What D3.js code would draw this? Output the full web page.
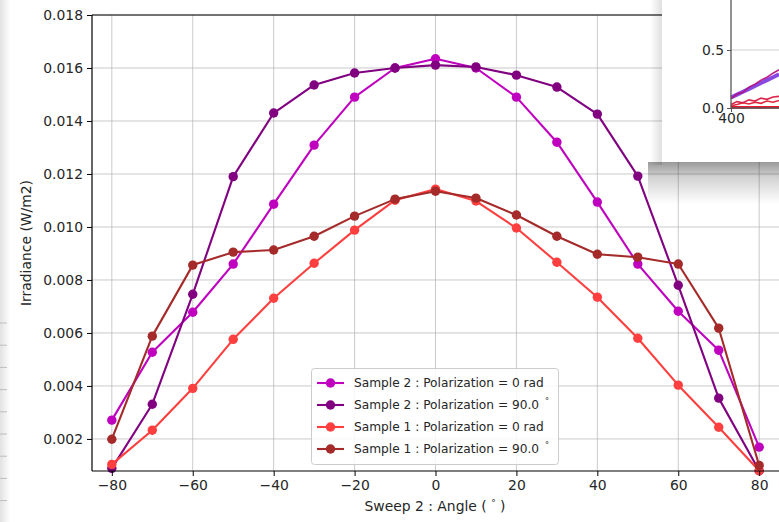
<!DOCTYPE html>
<html>
<head>
<meta charset="utf-8">
<script src="https://cdn.jsdelivr.net/npm/d3@7/dist/d3.min.js"></script>
<style>
  html, body { margin: 0; padding: 0; background: #ffffff; }
  svg { display: block; }
  text { font-family: "DejaVu Sans", sans-serif; fill: #262626; }
</style>
</head>
<body>
<svg id="chart" width="779" height="522"></svg>
<script>
// Sweep angles (degrees)
const angles = [-80, -70, -60, -50, -40, -30, -20, -10, 0, 10, 20, 30, 40, 50, 60, 70, 80];

// Irradiance (W/m2) per sample / polarization
const sample2Pol0 = [0.00271, 0.00527, 0.00678, 0.00860, 0.01086, 0.01309, 0.01490, 0.01600, 0.01635,
                     0.01600, 0.01490, 0.01320, 0.01094, 0.00860, 0.00682, 0.00535, 0.00169];
const sample2Pol90 = [0.00089, 0.00331, 0.00746, 0.01190, 0.01430, 0.01536, 0.01581, 0.01600, 0.01611,
                      0.01604, 0.01573, 0.01528, 0.01426, 0.01192, 0.00780, 0.00354, 0.00080];
const sample1Pol0 = [0.00104, 0.00233, 0.00391, 0.00576, 0.00731, 0.00863, 0.00988, 0.01101, 0.01143,
                     0.01098, 0.00996, 0.00867, 0.00735, 0.00580, 0.00403, 0.00244, 0.00080];
const sample1Pol90 = [0.00199, 0.00588, 0.00856, 0.00905, 0.00913, 0.00965, 0.01041, 0.01105, 0.01135,
                      0.01109, 0.01045, 0.00965, 0.00897, 0.00886, 0.00860, 0.00618, 0.00100];

const seriesNames = [
  ["Sample 2 : Polarization = 0 rad", null],
  ["Sample 2 : Polarization = 90.0 ", "°"],
  ["Sample 1 : Polarization = 0 rad", null],
  ["Sample 1 : Polarization = 90.0 ", "°"]
];
const seriesValues = [sample2Pol0, sample2Pol90, sample1Pol0, sample1Pol90];
const seriesColors = ["#bf00bf", "#800080", "#ff3f3f", "#a52a2a"];

const xTicks = [-80, -60, -40, -20, 0, 20, 40, 60, 80];
const yTicks = [0.002, 0.004, 0.006, 0.008, 0.010, 0.012, 0.014, 0.016, 0.018];

// Second plot window (spectra) partly overlapping the figure
const insetWavelength = [400, 405, 410, 415, 420, 425, 430, 435, 440];
const insetViolet  = [0.09, 0.115, 0.14, 0.165, 0.19, 0.215, 0.24, 0.265, 0.29];
const insetMagenta = [0.08, 0.12, 0.135, 0.18, 0.205, 0.24, 0.265, 0.30, 0.33];
const insetRedA    = [0.03, 0.055, 0.045, 0.07, 0.06, 0.085, 0.075, 0.095, 0.10];
const insetRedB    = [0.02, 0.03, 0.045, 0.035, 0.05, 0.04, 0.06, 0.05, 0.065];
const insetRedC    = [0.005, 0.006, 0.005, 0.007, 0.006, 0.005, 0.007, 0.006, 0.006];

const svg = d3.select("#chart");
const defs = svg.append("defs");

// Plot area
const plotLeft = 92, plotTop = 15, plotBottom = 471;
const x = d3.scaleLinear().domain([-84.9, 84.9]).range([plotLeft, plotLeft + 687]);
const y = d3.scaleLinear().domain([0.00079, 0.018]).range([plotBottom, plotTop]);

// Left strip of the desktop behind the figure
const gl = defs.append("linearGradient").attr("id", "leftShade").attr("x1", 0).attr("x2", 1);
gl.append("stop").attr("offset", 0).attr("stop-color", "#e2e2e2");
gl.append("stop").attr("offset", 1).attr("stop-color", "#ffffff");
svg.append("rect").attr("x", 0).attr("y", 0).attr("width", 10).attr("height", 522).attr("fill", "url(#leftShade)");
svg.append("g").selectAll("line").data(d3.range(323, 510, 22.2)).join("line")
  .attr("x1", 0).attr("x2", 7).attr("y1", d => d).attr("y2", d => d)
  .attr("stroke", "#bdbdbd").attr("stroke-width", 1);

// Grid
const grid = svg.append("g").attr("stroke", "#b0b0b0").attr("stroke-width", 0.9).attr("stroke-opacity", 0.75);
grid.selectAll(".gx").data(xTicks).join("line")
  .attr("x1", d => x(d)).attr("x2", d => x(d)).attr("y1", plotTop).attr("y2", plotBottom);
grid.selectAll(".gy").data(yTicks).join("line")
  .attr("x1", plotLeft).attr("x2", 779).attr("y1", d => y(d)).attr("y2", d => y(d));

// Series
const line = d3.line().x((d, i) => x(angles[i])).y(d => y(d));
seriesValues.forEach((vals, k) => {
  const g = svg.append("g");
  g.append("path").datum(vals).attr("d", line)
    .attr("fill", "none").attr("stroke", seriesColors[k]).attr("stroke-width", 2.1)
    .attr("stroke-linejoin", "round");
  g.selectAll("circle").data(vals).join("circle")
    .attr("cx", (d, i) => x(angles[i])).attr("cy", d => y(d)).attr("r", 4.7)
    .attr("fill", seriesColors[k]);
});

// Axes
const xAxis = d3.axisBottom(x).tickValues(xTicks).tickSize(5).tickPadding(4).tickFormat(d3.format("d"));
const yAxis = d3.axisLeft(y).tickValues(yTicks).tickSize(5).tickPadding(4).tickFormat(d3.format(".3f"));
const gx = svg.append("g").attr("transform", `translate(0,${plotBottom})`).call(xAxis);
const gy = svg.append("g").attr("transform", `translate(${plotLeft},0)`).call(yAxis);
[gx, gy].forEach(g => {
  g.select(".domain").remove();
  g.selectAll(".tick line").attr("stroke", "#000").attr("stroke-width", 1);
  g.selectAll(".tick text").attr("font-size", 13.9).attr("font-family", "DejaVu Sans").attr("fill", "#262626");
});
// Spines
svg.append("line").attr("x1", plotLeft).attr("x2", plotLeft).attr("y1", plotTop).attr("y2", plotBottom).attr("stroke", "#000").attr("stroke-width", 1.2);
svg.append("line").attr("x1", plotLeft).attr("x2", 779).attr("y1", plotBottom).attr("y2", plotBottom).attr("stroke", "#000").attr("stroke-width", 1.2);
svg.append("line").attr("x1", plotLeft).attr("x2", 779).attr("y1", plotTop).attr("y2", plotTop).attr("stroke", "#000").attr("stroke-width", 1.2);

// Axis labels
svg.append("text").attr("transform", `translate(31,${(plotTop + plotBottom) / 2}) rotate(-90)`)
  .attr("text-anchor", "middle").attr("font-size", 13.9).text("Irradiance (W/m2)");
const xl = svg.append("text").attr("x", 435).attr("y", 511).attr("text-anchor", "middle").attr("font-size", 13.9);
xl.append("tspan").text("Sweep 2 : Angle ( ");
xl.append("tspan").attr("font-size", 9).attr("dy", -5).text("°");
xl.append("tspan").attr("dy", 5).text(" )");

// Legend
const lg = svg.append("g");
lg.append("rect").attr("x", 311.5).attr("y", 368.5).attr("width", 247).attr("height", 96).attr("rx", 3)
  .attr("fill", "#ffffff").attr("fill-opacity", 0.85).attr("stroke", "#cccccc").attr("stroke-width", 1);
seriesNames.forEach((nm, k) => {
  const cy = 383 + k * 22;
  lg.append("line").attr("x1", 317).attr("x2", 344).attr("y1", cy).attr("y2", cy)
    .attr("stroke", seriesColors[k]).attr("stroke-width", 2.1);
  lg.append("circle").attr("cx", 330.5).attr("cy", cy).attr("r", 4.7).attr("fill", seriesColors[k]);
  const t = lg.append("text").attr("x", 354).attr("y", cy + 4.3).attr("font-size", 12.2);
  t.append("tspan").text(nm[0]);
  if (nm[1]) t.append("tspan").attr("font-size", 8).attr("dx", 2).attr("dy", -5).text(nm[1]);
});

// Overlapping spectra window with its drop shadow
const gs = defs.append("linearGradient").attr("id", "shadowBelow").attr("x1", 0).attr("x2", 0).attr("y1", 0).attr("y2", 1);
gs.append("stop").attr("offset", 0).attr("stop-color", "#000").attr("stop-opacity", 0.4);
gs.append("stop").attr("offset", 0.35).attr("stop-color", "#000").attr("stop-opacity", 0.18);
gs.append("stop").attr("offset", 1).attr("stop-color", "#000").attr("stop-opacity", 0);
const gsl = defs.append("linearGradient").attr("id", "shadowLeft").attr("x1", 1).attr("x2", 0);
gsl.append("stop").attr("offset", 0).attr("stop-color", "#000").attr("stop-opacity", 0.12);
gsl.append("stop").attr("offset", 1).attr("stop-color", "#000").attr("stop-opacity", 0);
svg.append("rect").attr("x", 648).attr("y", 162).attr("width", 131).attr("height", 42).attr("fill", "url(#shadowBelow)");
svg.append("rect").attr("x", 650).attr("y", 0).attr("width", 12).attr("height", 165).attr("fill", "url(#shadowLeft)");
svg.append("rect").attr("x", 662).attr("y", 0).attr("width", 117).attr("height", 162).attr("fill", "#ffffff");

const ix = d3.scaleLinear().domain([400, 440]).range([731, 779]);
const iy = d3.scaleLinear().domain([0, 0.5]).range([108, 50]);
const inset = svg.append("g");
inset.append("line").attr("x1", 731).attr("x2", 779).attr("y1", iy(0.5)).attr("y2", iy(0.5))
  .attr("stroke", "#b0b0b0").attr("stroke-opacity", 0.6);
const iline = d3.line().x((d, i) => ix(insetWavelength[i])).y(d => iy(d));
[[insetRedC, "#e8001c", 2.6], [insetRedB, "#e0102a", 1.6], [insetRedA, "#d81038", 1.6],
 [insetViolet, "#7b35e0", 4], [insetMagenta, "#b4107a", 1.6]].forEach(([vals, c, w]) => {
  inset.append("path").datum(vals).attr("d", iline).attr("fill", "none")
    .attr("stroke", c).attr("stroke-width", w).attr("stroke-opacity", 0.9);
});
inset.append("line").attr("x1", 731).attr("x2", 731).attr("y1", 0).attr("y2", 108).attr("stroke", "#555").attr("stroke-width", 1.3);
inset.append("line").attr("x1", 731).attr("x2", 779).attr("y1", 108).attr("y2", 108).attr("stroke", "#555").attr("stroke-width", 1.3);
const iyAxis = inset.append("g").attr("transform", "translate(731,0)")
  .call(d3.axisLeft(iy).tickValues([0, 0.5]).tickSize(4).tickPadding(3).tickFormat(d3.format(".1f")));
const ixAxis = inset.append("g").attr("transform", "translate(0,108)")
  .call(d3.axisBottom(ix).tickValues([400]).tickSize(4).tickPadding(1).tickFormat(d3.format("d")));
[iyAxis, ixAxis].forEach(g => {
  g.select(".domain").remove();
  g.selectAll(".tick line").attr("stroke", "#555");
  g.selectAll(".tick text").attr("font-size", 13.9).attr("font-family", "DejaVu Sans").attr("fill", "#262626");
});
</script>
</body>
</html>
